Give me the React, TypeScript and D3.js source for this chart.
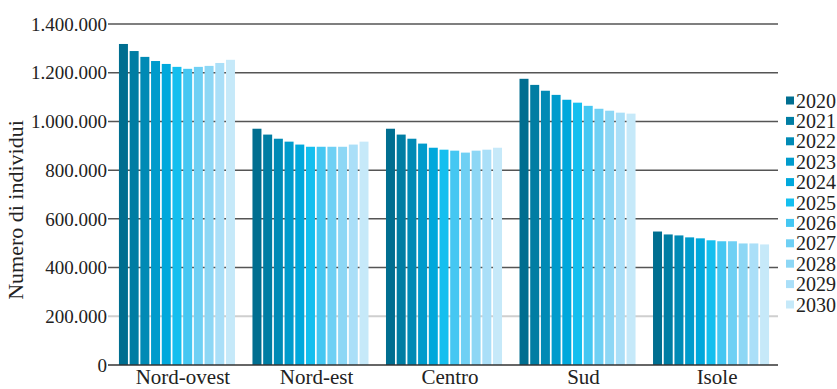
import React, { useEffect, useRef } from "react";
import * as d3 from "d3";

const regions = ["Nord-ovest", "Nord-est", "Centro", "Sud", "Isole"];
const years = ["2020", "2021", "2022", "2023", "2024", "2025", "2026", "2027", "2028", "2029", "2030"];

// individuals per region, one value for each year 2020..2030
const nordOvest = [1318000, 1289000, 1265000, 1248000, 1236000, 1224000, 1216000, 1224000, 1228000, 1240000, 1253000];
const nordEst = [970000, 946000, 929000, 917000, 905000, 896000, 896000, 896000, 896000, 905000, 917000];
const centro = [970000, 946000, 929000, 909000, 892000, 884000, 880000, 872000, 880000, 884000, 892000];
const sud = [1175000, 1150000, 1126000, 1109000, 1089000, 1077000, 1064000, 1052000, 1044000, 1036000, 1032000];
const isole = [548000, 536000, 532000, 524000, 520000, 512000, 508000, 508000, 499000, 499000, 495000];

const yTicks = [0, 200000, 400000, 600000, 800000, 1000000, 1200000, 1400000];

const yearColors = [
  "#006e90",
  "#007da3",
  "#008ab5",
  "#009bcc",
  "#00a8dc",
  "#14bfef",
  "#45c7f2",
  "#6fd0f4",
  "#8dd7f5",
  "#aadff8",
  "#c6e9f9",
];

const App = () => {
  const ref = useRef<SVGSVGElement>(null);

  useEffect(() => {
    const width = 837;
    const height = 389;
    const font = "'Liberation Serif', 'DejaVu Serif', serif";
    const seriesByRegion = [nordOvest, nordEst, centro, sud, isole];

    const svg = d3.select(ref.current);
    svg.selectAll("*").remove();

    const x0 = d3
      .scaleBand()
      .domain(regions)
      .range([110, 778])
      .paddingInner(0.131)
      .paddingOuter(0.067);

    const x1 = d3
      .scaleBand()
      .domain(years)
      .range([0, x0.bandwidth()])
      .paddingInner(0.16)
      .paddingOuter(0);

    const y = d3.scaleLinear().domain([0, 1400000]).range([365, 24]);

    const fmt = (v: number) => d3.format(",")(v).replace(/,/g, ".");

    // gridlines (behind the bars)
    svg
      .append("g")
      .selectAll("line")
      .data(yTicks.filter((t) => t > 0))
      .join("line")
      .attr("x1", 108)
      .attr("x2", 778)
      .attr("y1", (d) => y(d))
      .attr("y2", (d) => y(d))
      .style("stroke", (d) => (d === 200000 ? "#cfcfcf" : "#555"))
      .style("stroke-width", (d) => (d === 200000 ? 2 : 1.5));

    // bars
    const groups = svg
      .append("g")
      .selectAll("g")
      .data(regions)
      .join("g")
      .attr("transform", (d) => `translate(${x0(d)},0)`);

    groups
      .selectAll("rect")
      .data((d, i) => seriesByRegion[i].map((v, j) => ({ year: years[j], value: v })))
      .join("rect")
      .attr("x", (d) => x1(d.year) as number)
      .attr("width", x1.bandwidth())
      .attr("y", (d) => y(d.value))
      .attr("height", (d) => y(0) - y(d.value))
      .style("fill", (d, j) => yearColors[j]);

    // baseline
    svg
      .append("line")
      .attr("x1", 108)
      .attr("x2", 778)
      .attr("y1", y(0))
      .attr("y2", y(0))
      .style("stroke", "#333")
      .style("stroke-width", 1.5);

    // y tick labels
    svg
      .append("g")
      .selectAll("text")
      .data(yTicks)
      .join("text")
      .attr("x", 107)
      .attr("y", (d) => y(d))
      .attr("dy", "0.35em")
      .attr("text-anchor", "end")
      .style("font-family", font)
      .style("font-size", "19px")
      .style("fill", "#222")
      .text((d) => fmt(d));

    // category labels
    svg
      .append("g")
      .selectAll("text")
      .data(regions)
      .join("text")
      .attr("x", (d) => (x0(d) as number) + x0.bandwidth() / 2 + 6)
      .attr("y", 384)
      .attr("text-anchor", "middle")
      .style("font-family", font)
      .style("font-size", "21px")
      .style("fill", "#222")
      .text((d) => d);

    // y axis title
    svg
      .append("text")
      .attr("transform", "translate(23,210) rotate(-90)")
      .attr("text-anchor", "middle")
      .style("font-family", font)
      .style("font-size", "22px")
      .style("fill", "#222")
      .text("Numero di individui");

    // legend
    const legend = svg
      .append("g")
      .selectAll("g")
      .data(years)
      .join("g")
      .attr("transform", (d, i) => `translate(786,${100.5 + i * 20.4})`);

    legend
      .append("rect")
      .attr("x", 0)
      .attr("y", -4)
      .attr("width", 8)
      .attr("height", 8)
      .style("fill", (d, i) => yearColors[i]);

    legend
      .append("text")
      .attr("x", 10)
      .attr("y", 0)
      .attr("dy", "0.35em")
      .style("font-family", font)
      .style("font-size", "20px")
      .style("fill", "#222")
      .text((d) => d);

    svg.attr("width", width).attr("height", height);
  }, []);

  return (
    <svg
      ref={ref}
      width={837}
      height={389}
      style={{ position: "absolute", left: 0, top: 0, background: "#fff" }}
    />
  );
};

export default App;
